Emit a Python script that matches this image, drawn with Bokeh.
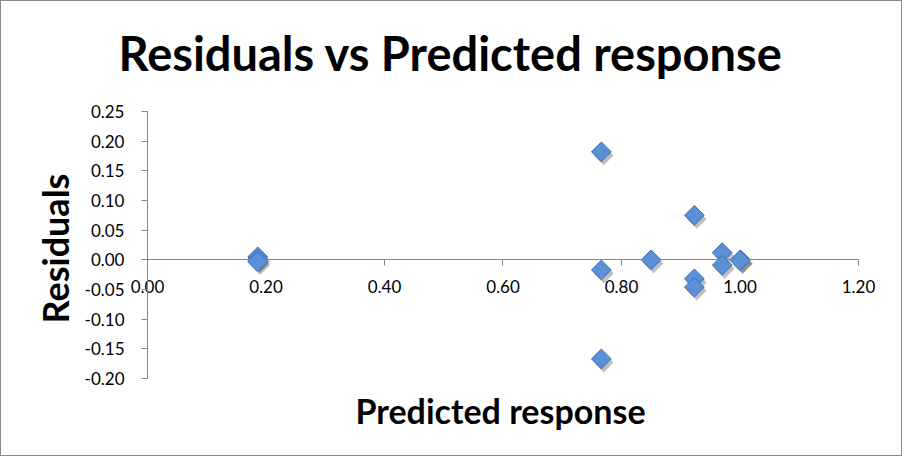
from bokeh.plotting import figure
from bokeh.models import ColumnDataSource, FixedTicker, NumeralTickFormatter, Title
from bokeh.transform import dodge
from bokeh.embed import file_html
from bokeh.resources import INLINE
import numpy as np

# Data
predicted = [0.186, 0.186, 0.186, 0.766, 0.766, 0.766, 0.850, 0.923, 0.923, 0.923, 0.970, 0.970, 1.001, 1.000]
residuals = [0.005, 0.001, -0.003, 0.182, -0.017, -0.167, 0.000, 0.075, -0.032, -0.046, 0.012, -0.009, 0.000, -0.001]

x_ticks = [0.0, 0.2, 0.4, 0.6, 0.8, 1.0, 1.2]
y_ticks = [-0.20, -0.15, -0.10, -0.05, 0.00, 0.05, 0.10, 0.15, 0.20, 0.25]

title_text = "Residuals vs Predicted response"
x_label = "Predicted response"
y_label = "Residuals"

FONT = "Lato"
AXIS_GREY = "#868686"

src = ColumnDataSource(data=dict(x=predicted, y=residuals))

# frame is a little wider than the axes so the axes can cross at 0
p = figure(width=902, height=456, x_range=(-0.11814, 1.26414), y_range=(-0.21517, 0.27023),
           output_backend="svg", toolbar_location=None)
p.styles = {"border": "1px solid #8a8a8a"}

p.min_border_left = 76
p.min_border_right = 7
p.min_border_top = 98
p.min_border_bottom = 70
p.outline_line_color = None
p.xgrid.visible = False
p.ygrid.visible = False
p.background_fill_color = "white"
p.border_fill_color = "white"

p.title.text = title_text
p.title.align = "left"
p.title.text_font = FONT
p.title.text_font_style = "bold"
p.title.text_font_size = "47px"
p.title.text_color = "black"
p.title.offset = 41
p.title.standoff = 37

# axes crossing at zero
ax = p.xaxis[0]
ax.fixed_location = 0
ax.bounds = (0, 1.2)
ax.ticker = FixedTicker(ticks=x_ticks)
ay = p.yaxis[0]
ay.fixed_location = 0
ay.bounds = (-0.2, 0.25)
ay.ticker = FixedTicker(ticks=y_ticks)
for a in (ax, ay):
    a.formatter = NumeralTickFormatter(format="0.00")
    a.axis_line_color = AXIS_GREY
    a.major_tick_line_color = AXIS_GREY
    a.minor_tick_line_color = None
    a.major_tick_out = 6
    a.major_tick_in = 0
    a.major_label_text_font = FONT
    a.major_label_text_font_size = "17px"
    a.major_label_text_color = "black"
ay.major_label_standoff = 17
ax.major_label_standoff = 14

p.add_layout(Title(text=x_label, align="left", text_font=FONT, text_font_style="bold",
                   text_font_size="34px", text_color="black", standoff=0, offset=278), "below")
p.add_layout(Title(text=y_label, align="left", text_font=FONT, text_font_style="bold",
                   text_font_size="36px", text_color="black", standoff=1, offset=64), "left")

# marker shadow
p.scatter(x=dodge("x", 0.004, range=p.x_range), y=dodge("y", -0.006, range=p.y_range), source=src,
          marker="square", angle=np.pi / 4, size=14, fill_color="#000000", fill_alpha=0.25,
          line_color=None)
p.scatter(x="x", y="y", source=src, marker="square", angle=np.pi / 4, size=14,
          fill_color="#5b8fd6", line_color="#3f6fb4", line_width=1)

open("out.html", "w").write(file_html(p, INLINE))
